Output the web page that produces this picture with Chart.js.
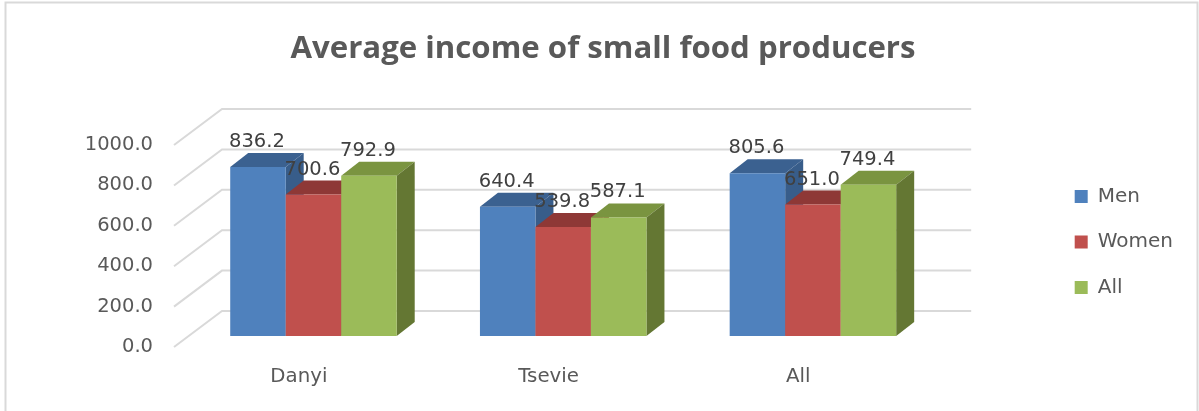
<!DOCTYPE html>
<html>
<head>
<meta charset="utf-8">
<title>Average income of small food producers</title>
<script src="https://cdn.jsdelivr.net/npm/chart.js@4"></script>
<style>
    html, body { margin: 0; background: #ffffff; }
    canvas { display: block; }
</style>
</head>
<body>
<canvas id="incomeChart" width="1199" height="411"></canvas>
<script>
const categories = ['Danyi', 'Tsevie', 'All'];
const menValues = [836.2, 640.4, 805.6];
const womenValues = [700.6, 539.8, 651.0];
const allValues = [792.9, 587.1, 749.4];
const yTicks = [0, 200, 400, 600, 800, 1000];

const FONT_FAMILY = '"DejaVu Sans", sans-serif';
const TEXT_COLOR = '#595959';
const GRID_COLOR = '#d9d9d9';

// oblique offsets of the 3D box: floor depth and the place the bars stand in it
const WALL_DX = 48, WALL_DY = -36;
const BAR_DX = 14.6, BAR_DY = -11;
const BAR_DEPTH_X = 18, BAR_DEPTH_Y = -14;

function polygon(ctx, points, color) {
    ctx.fillStyle = color;
    ctx.beginPath();
    points.forEach((p, i) => i ? ctx.lineTo(p[0], p[1]) : ctx.moveTo(p[0], p[1]));
    ctx.closePath();
    ctx.fill();
}

const box3d = {
    id: 'box3d',
    // the legend sits a little above the middle of the plot
    afterLayout(chart) {
        chart.legend.top -= 4;
        chart.legend.bottom -= 4;
    },
    beforeDraw(chart) {
        const { ctx, chartArea, scales } = chart;
        ctx.save();
        // outer frame
        ctx.strokeStyle = GRID_COLOR;
        ctx.lineWidth = 2;
        ctx.strokeRect(5.5, 2.5, 1192, 420);
        // floor edges and back wall gridlines
        yTicks.forEach(tick => {
            const y = scales.y.getPixelForValue(tick);
            ctx.beginPath();
            ctx.moveTo(chartArea.left, y);
            ctx.lineTo(chartArea.left + WALL_DX, y + WALL_DY);
            ctx.lineTo(chartArea.right + WALL_DX, y + WALL_DY);
            ctx.stroke();
        });
        ctx.restore();
    },
    // bars go left to right so that each one covers the side of its neighbour
    beforeDatasetsDraw(chart) {
        const { ctx } = chart;
        ctx.save();
        ctx.translate(BAR_DX, BAR_DY);
        chart.data.datasets.forEach((dataset, i) => {
            const meta = chart.getDatasetMeta(i);
            meta.data.forEach(bar => {
                const left = bar.x - bar.width / 2;
                const right = bar.x + bar.width / 2;
                polygon(ctx, [[left, bar.y], [left + BAR_DEPTH_X, bar.y + BAR_DEPTH_Y],
                    [right + BAR_DEPTH_X, bar.y + BAR_DEPTH_Y], [right, bar.y]], dataset.topColor);
                polygon(ctx, [[right, bar.y], [right + BAR_DEPTH_X, bar.y + BAR_DEPTH_Y],
                    [right + BAR_DEPTH_X, bar.base + BAR_DEPTH_Y], [right, bar.base]], dataset.sideColor);
            });
            meta.controller.draw();
        });
        ctx.restore();
        return false;
    },
    afterDraw(chart) {
        const { ctx } = chart;
        ctx.save();
        ctx.font = '19.5px ' + FONT_FAMILY;
        ctx.fillStyle = '#404040';
        ctx.textAlign = 'center';
        ctx.textBaseline = 'middle';
        chart.data.datasets.forEach((dataset, i) => {
            chart.getDatasetMeta(i).data.forEach((bar, j) => {
                ctx.fillText(dataset.data[j].toFixed(1), bar.x + BAR_DX - 1, bar.y + BAR_DY - 25);
            });
        });
        ctx.restore();
    }
};

new Chart(document.getElementById('incomeChart'), {
    type: 'bar',
    data: {
        labels: categories,
        datasets: [
            { label: 'Men', data: menValues, backgroundColor: '#4f81bd', topColor: '#3b6190', sideColor: '#385d8a' },
            { label: 'Women', data: womenValues, backgroundColor: '#c0504d', topColor: '#8e3836', sideColor: '#8e3836' },
            { label: 'All', data: allValues, backgroundColor: '#9bbb59', topColor: '#7a9440', sideColor: '#647733' }
        ]
    },
    plugins: [box3d],
    options: {
        responsive: false,
        animation: false,
        layout: { padding: { left: 23, right: 16, top: 0, bottom: 0 } },
        datasets: { bar: { categoryPercentage: 0.6667, barPercentage: 1 } },
        plugins: {
            tooltip: { enabled: false },
            title: {
                display: true,
                text: 'Average income of small food producers',
                color: TEXT_COLOR,
                font: { family: '"Open Sans", sans-serif', size: 31.2, weight: 'bold' },
                padding: { top: 30, bottom: 77.6 }
            },
            legend: {
                position: 'right',
                fullSize: false,
                labels: {
                    color: TEXT_COLOR,
                    font: { family: FONT_FAMILY, size: 20 },
                    boxWidth: 13,
                    boxHeight: 13,
                    padding: 25.5
                }
            }
        },
        scales: {
            x: {
                grid: { display: false },
                border: { display: false },
                ticks: { color: TEXT_COLOR, font: { family: FONT_FAMILY, size: 19.8 }, padding: 10 },
                afterFit(scale) { scale.height = 64; }
            },
            y: {
                min: 0,
                max: 1000,
                grid: { display: false },
                border: { display: false },
                ticks: {
                    stepSize: 200,
                    color: TEXT_COLOR,
                    font: { family: FONT_FAMILY, size: 19.5 },
                    padding: 13,
                    callback: value => value.toFixed(1)
                },
                afterFit(scale) { scale.width = 151; }
            },
            // keeps the empty strip between the plot and the legend
            spacer: {
                type: 'linear',
                position: 'right',
                display: true,
                grid: { display: false },
                border: { display: false },
                ticks: { display: false },
                afterFit(scale) { scale.width = 126; }
            }
        }
    }
});
</script>
</body>
</html>
